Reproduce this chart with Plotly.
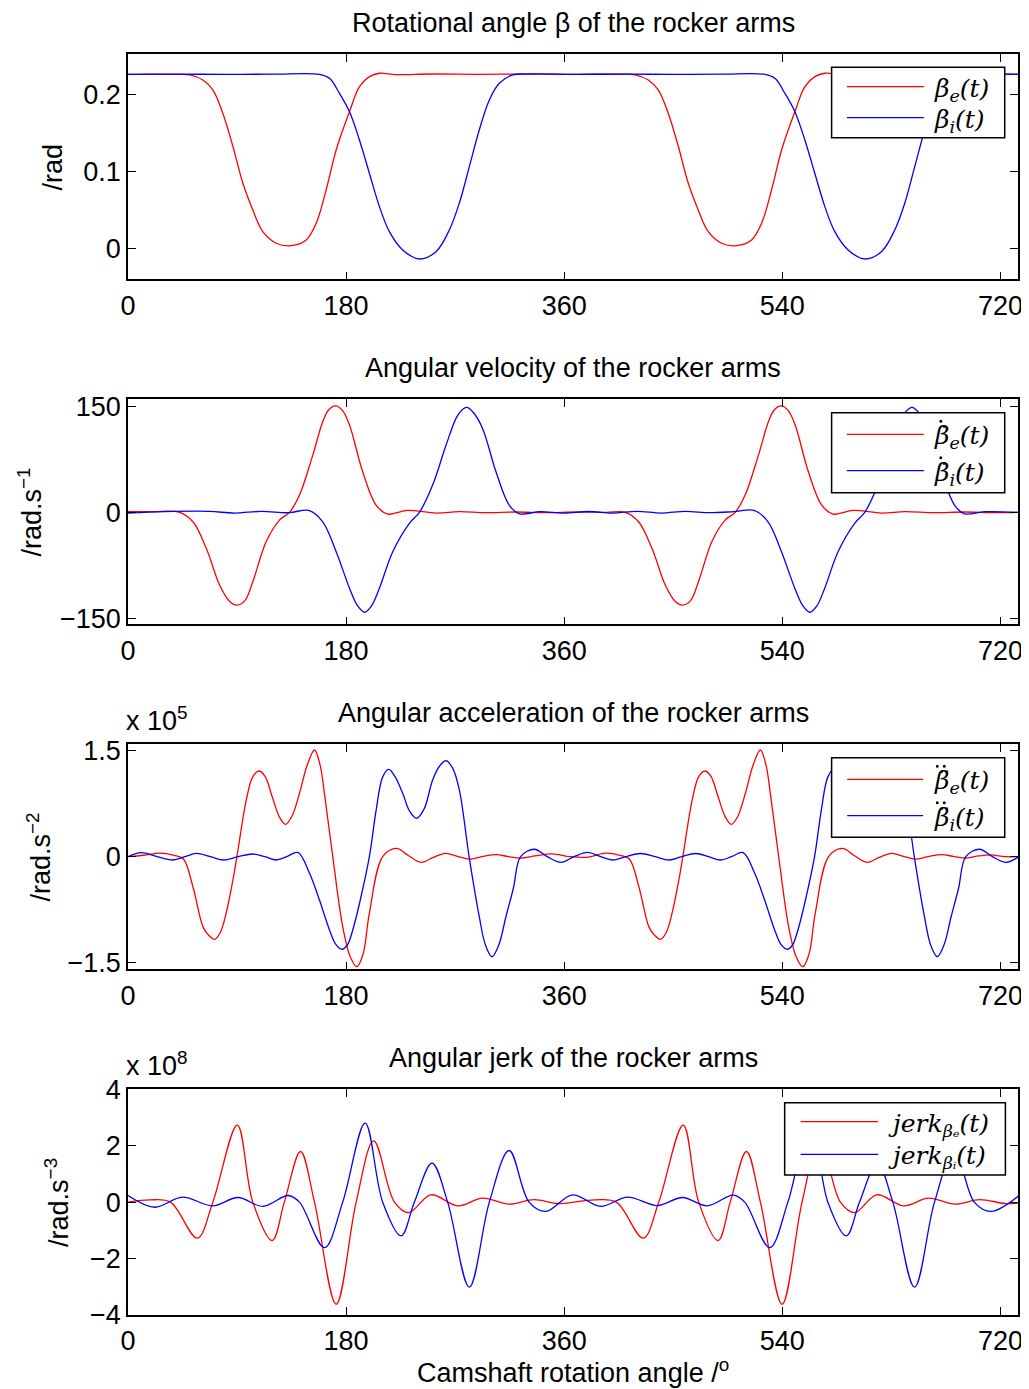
import plotly.graph_objects as go

# ---------------- data ----------------
# Panel 1: rotational angle beta [rad]
beta_e_x = [0, 20, 40, 50.9, 61.8, 70, 78.3, 86.6, 94.8, 103, 111.3, 122.3, 134.7, 147, 155.3, 163.5, 171.8, 182.8, 191, 199.2, 207.5, 220.7, 250, 290, 330, 370, 405,
            418.5, 429.4, 437.6, 445.9, 454.2, 462.4, 470.6, 478.9, 489.9, 502.3, 514.6, 522.9, 531.1, 539.4, 550.4, 558.6, 566.8, 575.1, 588.3, 620, 660, 700, 735]
beta_e_y = [0.2268, 0.2271, 0.2268, 0.2262, 0.2195, 0.2065, 0.1760, 0.1330, 0.0853, 0.0506, 0.0225, 0.0074, 0.0043, 0.0117, 0.0334, 0.0766, 0.1286, 0.1783, 0.2108, 0.2238, 0.2282, 0.2264, 0.2272, 0.2268, 0.2271, 0.2268, 0.2270,
            0.2262, 0.2195, 0.2065, 0.1760, 0.1330, 0.0853, 0.0506, 0.0225, 0.0074, 0.0043, 0.0117, 0.0334, 0.0766, 0.1286, 0.1783, 0.2108, 0.2238, 0.2282, 0.2264, 0.2272, 0.2268, 0.2271, 0.2269]
beta_i_x = [0, 40, 80, 120, 158, 166.3, 174.5, 182.8, 191, 199.2, 207.5, 215.7, 226.7, 240.5, 254.2, 265.2, 273.4, 281.7, 289.9, 298.2, 306.4, 317.4, 330, 370, 410, 450, 490,
            525.6, 533.9, 542.1, 550.4, 558.6, 566.8, 575.1, 583.3, 594.3, 608.1, 621.8, 632.8, 641, 649.3, 657.5, 665.8, 674, 685, 700, 735]
beta_i_y = [0.2268, 0.2270, 0.2268, 0.2270, 0.2268, 0.2216, 0.2022, 0.1783, 0.1416, 0.0983, 0.0550, 0.0225, -0.0013, -0.0130, -0.0035, 0.0247, 0.0593, 0.1069, 0.1545, 0.1935, 0.2152, 0.2260, 0.2272, 0.2268, 0.2270, 0.2268, 0.2270,
            0.2268, 0.2216, 0.2022, 0.1783, 0.1416, 0.0983, 0.0550, 0.0225, -0.0013, -0.0130, -0.0035, 0.0247, 0.0593, 0.1069, 0.1545, 0.1935, 0.2152, 0.2260, 0.2272, 0.2268]

# Panel 2: angular velocity [rad/s]
vel_e_x = [0, 20, 42.6, 53.6, 64.6, 75.6, 83.5, 89.9, 96.5, 103, 114, 125, 133.3, 141.5, 152.5, 160.7, 165.5, 171.2, 177, 182.8, 193.7, 204.7, 214.3, 230.8, 254.2, 273.4, 295, 320, 345, 370, 395,
           410.4, 421.4, 432.4, 443.4, 451.3, 457.7, 464.3, 470.8, 481.8, 492.8, 501.1, 509.3, 520.3, 528.5, 533.3, 539, 544.8, 550.6, 561.5, 572.5, 582.1, 598.6, 622, 641.2, 665, 690, 715, 735]
vel_e_y = [1, 1, 0, -13.3, -50.8, -102.6, -125, -130.8, -124.5, -97.9, -41.5, -10.9, 0, 24.4, 80.8, 127.8, 144.5, 150.4, 144, 123.2, 57.3, 10.3, -2.4, 2.8, -1, 1, -0.5, 0.5, -0.5, 0.5, 0,
           0, -13.3, -50.8, -102.6, -125, -130.8, -124.5, -97.9, -41.5, -10.9, 0, 24.4, 80.8, 127.8, 144.5, 150.4, 144, 123.2, 57.3, 10.3, -2.4, 2.8, -1, 1, -0.5, 0.5, -0.5, 0]
vel_i_x = [0, 30, 67, 88, 110, 133, 149.2, 160.7, 171.8, 182.8, 189.5, 195.2, 201, 207.5, 218.5, 232.2, 240.5, 251.4, 262.5, 270.7, 274.5, 279.5, 285, 292.6, 303.7, 314.6, 322.9,
           340, 360, 380, 400, 420, 440, 460, 480, 500, 516.7,
           528.2, 539.3, 550.3, 557, 562.7, 568.5, 575, 586, 599.7, 608, 618.9, 630, 638.2, 642, 647, 652.5, 660.1, 671.2, 682.1, 690.4, 707, 735]
vel_i_y = [-1, 1, 1.4, -1, 1.4, -0.5, 2.8, -13.3, -55.6, -107, -132, -141, -132, -107, -55.6, -15.5, 0, 38.5, 95, 132.6, 142.5, 148.1, 141, 118.5, 57.3, 10.3, -2,
           1, -1, 1.2, -1, 1.4, -1, 1.4, -0.5, 1, 2.8,
           -13.3, -55.6, -107, -132, -141, -132, -107, -55.6, -15.5, 0, 38.5, 95, 132.6, 142.5, 148.1, 141, 118.5, 57.3, 10.3, -2, 1, 0]

# Panel 3: angular acceleration [x 1e5 rad/s^2]
acc_e_x = [0, 13, 26, 38, 45.6, 53.6, 61.8, 66.5, 71.5, 76, 81, 86.6, 89.9, 97.6, 103, 108, 113, 119, 125, 130, 135.5, 141.5, 148, 153.9, 158.5,
           162.1, 169, 177.2, 183.5, 188.8, 194, 199.2, 210.2, 221.7, 231, 241.9, 252, 262, 272, 281.7, 292, 303.7, 314, 324, 336, 350, 365, 380, 394, 406,
           413.6, 421.6, 429.8, 434.5, 439.5, 444, 449, 454.6, 457.9, 465.6, 471, 476, 481, 487, 493, 498, 503.5, 509.5, 516, 521.9, 526.5,
           530.1, 537, 545.2, 551.5, 556.8, 562, 567.2, 578.2, 589.7, 599, 609.9, 620, 630, 640, 649.7, 660, 671.7, 682, 692, 702, 712, 724, 735]
acc_e_y = [0, 0.02, 0.05, 0.02, -0.03, -0.425, -0.99, -1.11, -1.169, -1.08, -0.80, -0.33, 0, 0.8, 1.132, 1.213, 1.14, 0.849, 0.56, 0.458, 0.58, 0.897, 1.3, 1.51, 1.3,
           0.897, 0, -0.99, -1.42, -1.557, -1.38, -0.8, 0, 0.118, 0.02, -0.08, -0.01, 0.048, 0.005, -0.035, 0, 0.03, 0, -0.02, 0.01, 0.04, 0.0, -0.005, 0.05, 0.02,
           -0.03, -0.425, -0.99, -1.11, -1.169, -1.08, -0.80, -0.33, 0, 0.8, 1.132, 1.213, 1.14, 0.849, 0.56, 0.458, 0.58, 0.897, 1.3, 1.51, 1.3,
           0.897, 0, -0.99, -1.42, -1.557, -1.38, -0.8, 0, 0.118, 0.02, -0.08, -0.01, 0.048, 0.005, -0.035, 0, 0.03, 0, -0.02, 0.01, 0.025, 0.0, 0]
acc_i_x = [0, 11, 24, 37, 47, 56.4, 68, 79, 91, 103, 113, 122.3, 131, 140.2, 149.8, 158, 166.3, 171.5, 176.7, 181, 185.5, 191.7, 199.2, 204.8, 210.2,
           215.2, 220.5, 226.7, 232.5, 238.2, 244.5, 251.4, 257, 262.4, 268, 273.4, 281.5, 289.9, 295, 300.4, 306, 311.9, 318, 324, 335.3,
           346, 357.3, 368, 379.2, 390, 399.8, 411, 423, 435, 446.6, 457, 468.5, 479, 489.2, 498, 507.6,
           517.2, 525.4, 533.7, 538.9, 544.1, 548.4, 552.9, 559.1, 566.6, 572.2, 577.6, 582.6, 587.9, 594.1, 599.9, 605.6, 611.9, 618.8, 624.4, 629.8,
           635.4, 640.8, 648.9, 657.3, 662.4, 667.8, 673.4, 679.3, 685.4, 691.4, 702.7, 713.4, 724.7, 735]
acc_i_y = [0, 0.057, 0, -0.047, 0, 0.047, 0, -0.047, 0, 0.038, 0, -0.047, 0, 0.06, -0.235, -0.613, -1.037, -1.24, -1.31, -1.25, -1.037, -0.613, 0, 0.66, 1.13,
           1.236, 1.13, 0.897, 0.64, 0.543, 0.68, 1.085, 1.28, 1.359, 1.25, 0.95, 0, -0.85, -1.25, -1.415, -1.25, -0.85, -0.45, 0, 0.105,
           0, -0.08, 0, 0.06, 0, -0.047, 0, 0.045, 0, -0.047, 0, 0.045, 0, -0.047, 0, 0.057,
           -0.235, -0.613, -1.037, -1.24, -1.31, -1.25, -1.037, -0.613, 0, 0.66, 1.13, 1.236, 1.13, 0.897, 0.64, 0.543, 0.68, 1.085, 1.28, 1.359,
           1.25, 0.95, 0, -0.85, -1.25, -1.415, -1.25, -0.85, -0.45, 0, 0.105, 0, -0.08, 0.0]

# Panel 4: angular jerk [x 1e8 rad/s^3]
jerk_e_x = [0, 18, 35, 57.2, 70, 90.2, 103, 119, 129, 142.4, 153.9, 171.8, 188.3, 202.8, 219.9, 231.6, 250, 272, 292.6, 314.6, 335, 355.9, 384.7,
            403, 425.2, 438, 458.2, 471, 487, 497, 510.4, 521.9, 539.8, 556.3, 570.8, 587.9, 599.6, 618, 640, 660.6, 682.6, 703, 723.9, 735]
jerk_e_y = [0, 0.08, 0, -1.277, 0, 2.73, 0, -1.36, 0, 1.795, 0, -3.617, 0, 2.174, 0, -0.37, 0.26, -0.13, 0.14, -0.07, 0.09, -0.05, 0.08,
            0, -1.277, 0, 2.73, 0, -1.36, 0, 1.795, 0, -3.617, 0, 2.174, 0, -0.37, 0.26, -0.13, 0.14, -0.07, 0.09, -0.05, -0.03]
jerk_i_x = [0, 22, 44.8, 70, 90.7, 111.3, 132.2, 141.5, 162.1, 177.2, 195.7, 210.2, 225.4, 236.3, 250.9, 263.8, 281.7, 298.2, 314.6, 331, 344.9, 366.8, 390, 412.2, 437, 457.5, 478, 499.6,
            509, 529.5, 544.6, 563.1, 577.6, 592.8, 603.7, 618.3, 631.2, 649.1, 665.6, 682, 698.4, 712.3, 735]
jerk_i_y = [0.235, -0.18, 0.18, -0.13, 0.165, -0.15, 0.235, 0, -1.61, 0, 2.8, 0, -1.195, 0, 1.383, 0, -3.014, 0, 1.83, 0, -0.33, 0.26, -0.15, 0.18, -0.12, 0.165, -0.13, 0.25,
            0, -1.61, 0, 2.8, 0, -1.195, 0, 1.383, 0, -3.014, 0, 1.83, 0, -0.33, 0.22]

x_ticks = [0, 180, 360, 540, 720]
titles = ["Rotational angle \u03b2 of the rocker arms",
          "Angular velocity of the rocker arms",
          "Angular acceleration of the rocker arms",
          "Angular jerk of the rocker arms"]
ylabels = ["/rad", "/rad.s<sup>\u22121</sup>", "/rad.s<sup>\u22122</sup>", "/rad.s<sup>\u22123</sup>"]
y_tickvals = [[0, 0.1, 0.2], [-150, 0, 150], [-1.5, 0, 1.5], [-4, -2, 0, 2, 4]]
y_ticktext = [["0", "0.1", "0.2"], ["\u2212150", "0", "150"], ["\u22121.5", "0", "1.5"],
              ["\u22124", "\u22122", "0", "2", "4"]]
y_ranges = [[-0.0394, 0.2532], [-158, 160], [-1.594, 1.595], [-4, 4]]
legend_names = [
    ["<i>\u03b2<sub>e</sub>(t)</i>", "<i>\u03b2<sub>i</sub>(t)</i>"],
    ["<i>\u03b2\u0307<sub>e</sub>(t)</i>", "<i>\u03b2\u0307<sub>i</sub>(t)</i>"],
    ["<i>\u03b2\u0308<sub>e</sub>(t)</i>", "<i>\u03b2\u0308<sub>i</sub>(t)</i>"],
    ["<i>jerk<sub>\u03b2\u2091</sub>(t)</i>", "<i>jerk<sub>\u03b2\u1d62</sub>(t)</i>"],
]
accent_dots = [0, 1, 2, 0]
scale_labels = [None, None, "x 10<sup>5</sup>", "x 10<sup>8</sup>"]

# ---------------- layout helpers (reference pixel coords -> paper) ----------------
OFF = 8                      # page body margin of the browser
W, H = 1029 - OFF, 1389 - OFF
ML, MR, MT, MB = 120, 6, 46, 74
PW, PH = W - ML - MR, H - MT - MB
REF_L, REF_R = 128.3, 1019.3


def py2p(py):
    return (H - MB - (py - OFF)) / PH


def px2p(px):
    return (px - REF_L) / (REF_R - REF_L)


panels_px = [(54, 279.3), (399, 624.3), (744, 969.3), (1089.3, 1315)]
legend_boxes = [(832.7, 67.3, 1006, 137.7), (832.7, 412.7, 1006, 492.7),
                (832.7, 757.7, 1006, 837.3), (785.7, 1102.7, 1006.7, 1175)]
legend_rows = [(86.7, 117.7), (434.3, 470.7), (779.3, 815.7), (1121.7, 1154.3)]
legend_line_x = [(848, 925), (848, 925), (848.3, 924.3), (801.7, 879.3)]
legend_text_x = [933, 933, 933, 886.7]
ylabel_x = [53, 30, 39, 57]

series = [
    (beta_e_x, beta_e_y, beta_i_x, beta_i_y),
    (vel_e_x, vel_e_y, vel_i_x, vel_i_y),
    (acc_e_x, acc_e_y, acc_i_x, acc_i_y),
    (jerk_e_x, jerk_e_y, jerk_i_x, jerk_i_y),
]

RED = "#ff0000"
BLUE = "#0000ff"
SANS = "Liberation Sans, Arial, Helvetica, sans-serif"
SERIF = "DejaVu Serif, Liberation Serif, serif"
FS = 27
LFS = 25

fig = go.Figure()
layout = dict(
    width=W, height=H,
    margin=dict(l=ML, r=MR, t=MT, b=MB),
    paper_bgcolor="white", plot_bgcolor="white",
    font=dict(family=SANS, size=FS, color="black"),
    showlegend=False,
)
annotations = []
shapes = []

for k in range(4):
    sfx = "" if k == 0 else str(k + 1)
    xa, ya = "x" + sfx, "y" + sfx
    ex, ey, ix, iy = series[k]
    fig.add_trace(go.Scatter(x=ex, y=ey, mode="lines", line=dict(color=RED, width=1.3, shape="spline", smoothing=1.0),
                             name=legend_names[k][0], xaxis=xa, yaxis=ya))
    fig.add_trace(go.Scatter(x=ix, y=iy, mode="lines", line=dict(color=BLUE, width=1.3, shape="spline", smoothing=1.0),
                             name=legend_names[k][1], xaxis=xa, yaxis=ya))
    top, bot = panels_px[k]
    layout["xaxis" + sfx] = dict(
        domain=[0, 1], anchor=ya, range=[0, 734.5], tickvals=x_ticks, ticktext=[str(v) for v in x_ticks],
        ticks="inside", ticklen=8, tickwidth=1, tickcolor="black",
        showline=True, linecolor="black", linewidth=1.6, mirror="allticks",
        showgrid=False, zeroline=False, tickfont=dict(family=SANS, size=FS, color="black"),
        ticklabelstandoff=1,
    )
    layout["yaxis" + sfx] = dict(
        domain=[py2p(bot), py2p(top)], anchor=xa, range=y_ranges[k],
        tickvals=y_tickvals[k], ticktext=y_ticktext[k],
        ticks="inside", ticklen=8, tickwidth=1, tickcolor="black",
        showline=True, linecolor="black", linewidth=1.6, mirror="allticks",
        showgrid=False, zeroline=False, tickfont=dict(family=SANS, size=FS, color="black"),
    )
    # legend box drawn in paper coordinates
    L, T, R, B = legend_boxes[k]
    shapes.append(dict(type="rect", xref="paper", yref="paper", layer="above",
                       x0=px2p(L), x1=px2p(R), y0=py2p(B), y1=py2p(T),
                       fillcolor="white", line=dict(color="black", width=1.5)))
    for j, col in enumerate([RED, BLUE]):
        ry = legend_rows[k][j]
        lx0, lx1 = legend_line_x[k]
        shapes.append(dict(type="line", xref="paper", yref="paper", layer="above",
                           x0=px2p(lx0), x1=px2p(lx1), y0=py2p(ry), y1=py2p(ry),
                           line=dict(color=col, width=1.3)))
        annotations.append(dict(text=legend_names[k][j], x=px2p(legend_text_x[k]), y=py2p(ry + 3),
                                xref="paper", yref="paper", xanchor="left", yanchor="middle", showarrow=False,
                                font=dict(family=SERIF, size=LFS, color="black")))
        nd = accent_dots[k]
        if nd:
            cx = legend_text_x[k] + 9
            cy = ry - 13
            offs = [0] if nd == 1 else [-3.5, 3.5]
            for o in offs:
                shapes.append(dict(type="circle", xref="paper", yref="paper", layer="above",
                                   x0=px2p(cx + o - 1.5), x1=px2p(cx + o + 1.5), y0=py2p(cy + 1.5), y1=py2p(cy - 1.5),
                                   fillcolor="black", line=dict(width=0)))
    annotations.append(dict(text=titles[k], x=0.5, y=py2p(top - 31), xref="paper", yref="paper",
                            xanchor="center", yanchor="middle", showarrow=False,
                            font=dict(family=SANS, size=FS, color="black")))
    annotations.append(dict(text=ylabels[k], x=px2p(ylabel_x[k]), y=py2p((top + bot) / 2), xref="paper", yref="paper",
                            xanchor="center", yanchor="middle", textangle=-90, showarrow=False,
                            font=dict(family=SANS, size=FS, color="black")))
    if scale_labels[k]:
        annotations.append(dict(text=scale_labels[k], x=px2p(124), y=py2p(top - 6), xref="paper", yref="paper",
                                xanchor="left", yanchor="bottom", showarrow=False,
                                font=dict(family=SANS, size=FS, color="black")))

annotations.append(dict(text="Camshaft rotation angle /<sup>o</sup>", x=0.5, y=py2p(1371), xref="paper", yref="paper",
                        xanchor="center", yanchor="middle", showarrow=False,
                        font=dict(family=SANS, size=FS, color="black")))
layout["annotations"] = annotations
layout["shapes"] = shapes
fig.update_layout(**layout)
fig.write_html("out.html")
